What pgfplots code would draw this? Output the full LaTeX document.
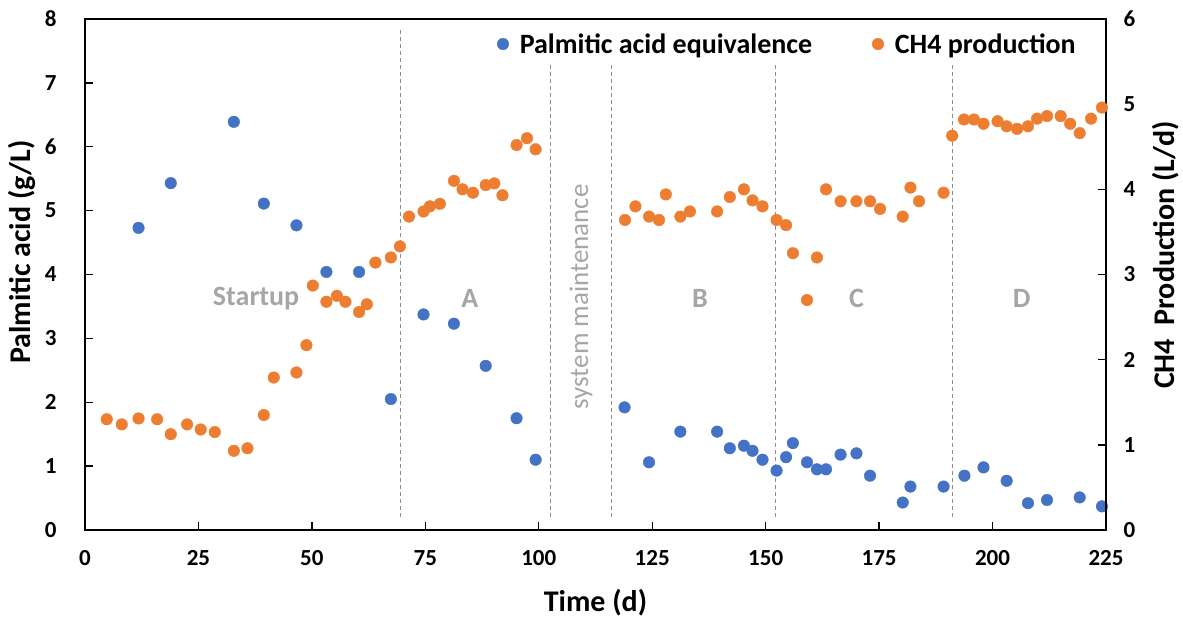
\documentclass[border=0pt]{standalone}
\usepackage{fontspec}
\setmainfont{Carlito}
\usepackage{pgfplots}
\pgfplotsset{compat=1.18}
\definecolor{pblue}{HTML}{4472C4}
\definecolor{porange}{HTML}{ED7D31}
\definecolor{lbl}{HTML}{A6A6A6}
\definecolor{dline}{HTML}{8C8C8C}

\pgfplotstableread{
x y
11.8 4.73
18.9 5.43
32.8 6.39
39.4 5.11
46.6 4.77
53.2 4.04
60.4 4.04
67.4 2.05
74.6 3.375
81.3 3.23
88.3 2.57
95.1 1.75
99.3 1.10
118.9 1.92
124.3 1.06
131.2 1.54
139.3 1.54
142.1 1.28
145.2 1.32
147.1 1.24
149.3 1.10
152.4 0.93
154.5 1.14
156.0 1.36
159.1 1.06
161.3 0.95
163.3 0.95
166.5 1.18
170.0 1.20
173.0 0.85
180.2 0.43
181.9 0.68
189.2 0.68
193.8 0.85
198.0 0.98
203.1 0.77
207.8 0.42
212.0 0.47
219.2 0.51
224.1 0.37
}\palmitic

\pgfplotstableread{
x y
4.8 1.30
8.1 1.24
11.8 1.31
15.9 1.30
18.9 1.125
22.5 1.24
25.5 1.18
28.6 1.15
32.8 0.93
35.8 0.96
39.4 1.35
41.6 1.79
46.6 1.85
48.8 2.17
50.2 2.87
53.2 2.68
55.5 2.75
57.4 2.68
60.4 2.56
62.1 2.65
64.0 3.14
67.4 3.20
69.4 3.33
71.4 3.68
74.6 3.74
76.0 3.80
78.2 3.83
81.3 4.10
83.2 4.00
85.5 3.96
88.3 4.05
90.2 4.07
92.0 3.93
95.1 4.52
97.4 4.60
99.3 4.47
119.0 3.64
121.3 3.80
124.3 3.68
126.5 3.64
128.0 3.94
131.2 3.68
133.3 3.74
139.3 3.74
142.1 3.91
145.2 4.00
147.1 3.87
149.3 3.80
152.4 3.64
154.5 3.58
156.0 3.25
159.1 2.70
161.3 3.20
163.3 4.00
166.5 3.86
170.0 3.86
173.0 3.86
175.2 3.77
180.2 3.68
181.9 4.02
183.8 3.86
189.2 3.96
191.1 4.63
193.7 4.82
195.9 4.82
198.0 4.77
201.1 4.80
203.1 4.74
205.4 4.71
207.8 4.74
209.8 4.83
212.0 4.86
215.0 4.86
217.1 4.77
219.2 4.66
221.7 4.83
224.1 4.96
}\methane

\begin{document}
\begin{tikzpicture}[x=1pt,y=1pt]
\useasboundingbox (0,0) rectangle (1183,623);
\pgfplotsset{
  base/.style={
    scale only axis, width=1021pt, height=511pt, at={(85pt,93pt)}, anchor=south west,
    xmin=0, xmax=225, tick align=inside, major tick length=8pt,
    axis line style={line width=2.2pt},
    every tick/.style={line width=1.4pt, black},
    /pgf/number format/assume math mode=true,
    ticklabel style={font=\fontsize{23}{23}\selectfont\bfseries},
    label style={font=\fontsize{30}{30}\selectfont\bfseries},
    clip=false,
    legend image code/.code={\draw[mark repeat=1,#1] plot coordinates {(0pt,0pt)};},
  }
}
\begin{axis}[base,
  ymin=0, ymax=8, ytick={0,...,8},
  xtick={0,25,...,225},
  xtick pos=lower, ytick pos=left,
  xticklabel style={anchor=north, yshift=-17pt},
  yticklabel style={anchor=east, xshift=-25pt},
  xlabel={Time (d)},
  xlabel style={at={(axis description cs:0.5,-0.143)}, anchor=center},
  ylabel={Palmitic acid (g/L)},
  ylabel style={at={(axis description cs:-0.0617,0.544)}, anchor=center},
  legend columns=2,
  legend style={draw=none, fill=none, inner sep=0pt,
    at={(axis description cs:0.4035,0.951)}, anchor=west,
    font=\fontsize{28}{28}\selectfont\bfseries,
    /tikz/every odd column/.append style={column sep=9pt},
    /tikz/every even column/.append style={column sep=58pt}},
]
\draw[dline, line width=0.9pt, dash pattern=on 4pt off 3pt] (axis cs:69.5,0.2) -- (axis cs:69.5,7.86);
\draw[dline, line width=0.9pt, dash pattern=on 4pt off 3pt] (axis cs:102.6,0.2) -- (axis cs:102.6,7.31);
\draw[dline, line width=0.9pt, dash pattern=on 4pt off 3pt] (axis cs:116.0,0.2) -- (axis cs:116.0,7.31);
\draw[dline, line width=0.9pt, dash pattern=on 4pt off 3pt] (axis cs:152.1,0.2) -- (axis cs:152.1,7.31);
\draw[dline, line width=0.9pt, dash pattern=on 4pt off 3pt] (axis cs:191.1,0.2) -- (axis cs:191.1,7.31);
\node[font=\fontsize{28}{28}\selectfont\bfseries, text=lbl] at (axis cs:37.7,3.63) {Startup};
\node[font=\fontsize{28}{28}\selectfont\bfseries, text=lbl] at (axis cs:84.8,3.63) {A};
\node[font=\fontsize{28}{28}\selectfont\bfseries, text=lbl] at (axis cs:135.5,3.63) {B};
\node[font=\fontsize{28}{28}\selectfont\bfseries, text=lbl] at (axis cs:170.0,3.63) {C};
\node[font=\fontsize{28}{28}\selectfont\bfseries, text=lbl] at (axis cs:206.4,3.63) {D};
\node[font=\fontsize{27}{27}\selectfont, text=lbl, rotate=90] at (axis cs:109.3,3.65) {system maintenance};
\addplot[only marks, mark=*, mark size=5.8pt, color=pblue] table[x=x,y=y] {\palmitic};
\addlegendentry{Palmitic acid equivalence}
\addlegendimage{only marks, mark=*, mark size=5.8pt, color=porange}
\addlegendentry{CH4 production}
\end{axis}
\begin{axis}[base,
  ymin=0, ymax=6, ytick={0,...,6},
  axis x line=none, axis y line*=right,
  yticklabel style={anchor=west, xshift=14pt},
  ylabel={CH4\ \ Production (L/d)},
  ylabel style={at={(axis description cs:1.058,0.538)}, anchor=center},
]
\addplot[only marks, mark=*, mark size=5.8pt, color=porange] table[x=x,y=y] {\methane};
\end{axis}
\end{tikzpicture}
\end{document}
